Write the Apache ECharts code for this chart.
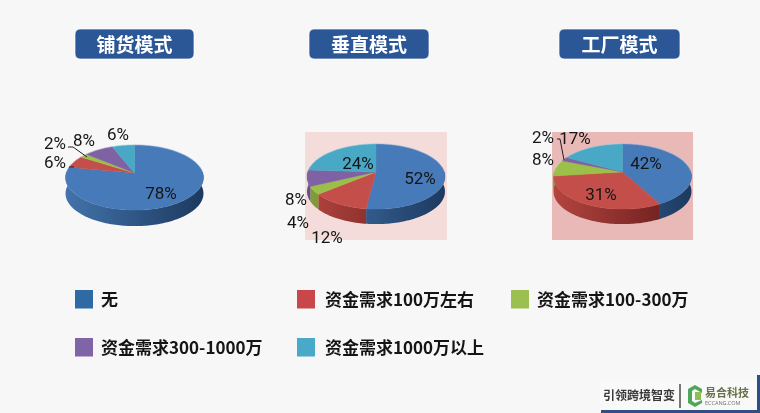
<!DOCTYPE html>
<html><head><meta charset="utf-8">
<style>html,body{margin:0;padding:0;background:#f7f7f8}#c{width:760px;height:413px}</style>
<script src="https://cdn.jsdelivr.net/npm/echarts@6/dist/echarts.min.js"></script>
</head><body><div id="c"></div>
<script>
// ---- data ----
const categories = ['无','资金需求100万左右','资金需求100-300万','资金需求300-1000万','资金需求1000万以上'];
const modelNames = ['铺货模式','垂直模式','工厂模式'];
const puhuoValues = [78,6,2,8,6];
const chuizhiValues = [52,12,4,8,24];
const gongchangValues = [42,31,8,2,17];
const footerSlogan = '引领跨境智变';
const footerBrand = '易合科技';
const footerDomain = 'ECCANG.COM';

// ---- styling / layout ----
const FONT_CJK = '"Noto Sans CJK SC"';
const topColors = ['#477ab8','#c44f4a','#9cbf4a','#7f62a3','#48a8c6'];
const legendColors = ['#2f6aa5','#c9474a','#9bc04f','#8064a8','#48a9c8'];
const wallStops = [['#4373aa','#1c3a60'],['#b3443f','#621a19'],['#7f9e38','#5c7528'],['#64508a','#443560'],['#3588a4','#205a70']];
const K = 0.138, SY = 32, SX = 68.3; // perspective of the tilted disc
const pies = [
  {values:puhuoValues, ax:134.5, ay:173, d:16, titleX:75, titleW:119,
   labels:[[161,195],[55,164],[55,145],[84,142],[118,136]],
   leaders:[[[68,147],[73,147],[87,157]],[[69,167],[74,167]]]},
  {values:chuizhiValues, ax:376, ay:172, d:15, titleX:309, titleW:120,
   labels:[[420,180],[327,239],[298,224],[296,201],[358,165]],leaders:[],
   bg:{x:305,y:132,w:142,h:108,c:'#f3dcd9'}},
  {values:gongchangValues, ax:622.5, ay:172, d:15, titleX:559, titleW:121,
   labels:[[646,165],[601,196],[543,161],[543,139],[575,140]],
   leaders:[[[557,139],[560,139],[564,160]]],
   bg:{x:552,y:132,w:141,h:108,c:'#e8b9b6'}}
];
const legendPos = [[75,290,26],[297,290,28],[511,290,26],[75,338,26],[297,338,28]];

function pt(p,deg,dy){
  const a=deg*Math.PI/180,u=Math.sin(a),v=-Math.cos(a),w=1-K*v;
  return [p.ax+SX*u/w,p.ay+SY*v/w+(dy||0)];
}

function makeSeries(p){
  const total=p.values.reduce((a,b)=>a+b,0);
  const starts=[];let acc=0;p.values.forEach(v=>{starts.push(acc);acc+=v;});
  return {
    type:'custom',coordinateSystem:'none',silent:true,animation:false,z:3,
    data:p.values.map((v,i)=>({name:categories[i],value:[v,i]})),
    renderItem:function(params,api){
      const v=api.value(0),i=api.value(1);
      const a0=starts[i]/total*360,a1=(starts[i]+v)/total*360;
      const children=[];
      const w0=Math.max(a0,80),w1=Math.min(a1,280);
      if(w1>w0){
        const up=[],down=[];
        for(let a=w0;a<w1;a+=1.5){up.push(pt(p,a));down.unshift(pt(p,a,p.d));}
        up.push(pt(p,w1));down.unshift(pt(p,w1,p.d));
        children.push({type:'polygon',z2:1,shape:{points:up.concat(down)},
          style:{stroke:null,fill:new echarts.graphic.LinearGradient(p.ax-SX,0,p.ax+SX,0,
            [{offset:0,color:wallStops[i][0]},{offset:1,color:wallStops[i][1]}],true)}});
      }
      const pts=[[p.ax,p.ay]],rimA=[],rimB=[];
      for(let a=a0;a<a1;a+=1.5){
        pts.push(pt(p,a));
        if(a<90)rimA.push(pt(p,a));
        if(a>270)rimB.push(pt(p,a));
      }
      pts.push(pt(p,a1));
      children.push({type:'polygon',z2:2,shape:{points:pts},style:{fill:topColors[i],stroke:topColors[i],lineWidth:.4}});
      [rimA,rimB].forEach(r=>{
        if(r.length>1)children.push({type:'polyline',z2:3,shape:{points:r},style:{fill:null,stroke:'rgba(255,255,255,.35)',lineWidth:.8}});
      });
      return {type:'group',children};
    }
  };
}

const graphic=[];
pies.forEach(p=>{if(p.bg)graphic.push({type:'rect',z:0,silent:true,shape:{x:p.bg.x,y:p.bg.y,width:p.bg.w,height:p.bg.h},style:{fill:p.bg.c}});});
pies.forEach((p,i)=>{
  graphic.push({type:'rect',z:5,shape:{x:p.titleX,y:29,width:p.titleW,height:30,r:5},
    style:{fill:'#2b5797',stroke:'rgba(255,255,255,.7)',lineWidth:1}});
  graphic.push({type:'text',z:6,style:{text:modelNames[i],x:p.titleX+p.titleW/2,y:44.5,align:'center',verticalAlign:'middle',
    font:'bold 19px '+FONT_CJK,fill:'#ffffff'}});
});
pies.forEach(p=>{
  p.leaders.forEach(l=>graphic.push({type:'polyline',z:9,shape:{points:l},style:{stroke:'#222',lineWidth:1,fill:null}}));
  p.values.forEach((v,i)=>graphic.push({type:'text',z:10,style:{text:v+'%',x:p.labels[i][0],y:p.labels[i][1],align:'center',verticalAlign:'middle',
    font:'17px Roboto',fill:'#151515'}}));
});
categories.forEach((c,i)=>{
  const [x,y,off]=legendPos[i];
  graphic.push({type:'rect',z:5,shape:{x:x,y:y,width:18,height:18.5},style:{fill:legendColors[i]}});
  graphic.push({type:'text',z:5,style:{text:c,x:x+off,y:y+10,verticalAlign:'middle',font:'bold 17px '+FONT_CJK,fill:'#151515'}});
});
graphic.push({type:'rect',z:1,shape:{x:600,y:381,width:157,height:29},style:{fill:'#f9f9f9'}});
graphic.push({type:'rect',z:2,shape:{x:601,y:410,width:159,height:3},style:{fill:'#2d4f86'}});
graphic.push({type:'rect',z:2,shape:{x:757,y:375,width:3,height:38},style:{fill:'#2d4f86'}});
graphic.push({type:'text',z:5,style:{text:footerSlogan,x:603,y:395,verticalAlign:'middle',font:'bold 12px '+FONT_CJK,fill:'#3a3a3a'}});
graphic.push({type:'rect',z:5,shape:{x:679,y:384,width:2,height:24},style:{fill:'#777'}});
graphic.push({type:'polygon',z:5,shape:{points:[[688,389],[695,385],[702,389],[702,393],[695,389],[692,391],[692,401],[695,403],[702,400],[702,403],[695,407],[688,403]]},style:{fill:'#4fa85a'}});
graphic.push({type:'rect',z:5,shape:{x:695,y:392,width:6,height:8},style:{fill:'#8cc152'}});
graphic.push({type:'text',z:5,style:{text:footerBrand,x:705,y:393,verticalAlign:'middle',font:'bold 11px '+FONT_CJK,fill:'#66734a'}});
graphic.push({type:'text',z:5,style:{text:footerDomain,x:705,y:403,verticalAlign:'middle',font:'5.5px "Noto Sans"',fill:'#777'}});

const chart=echarts.init(document.getElementById('c'),null,{renderer:'canvas'});
chart.setOption({backgroundColor:'#f7f7f8',animation:false,series:pies.map(makeSeries),graphic:{elements:graphic}});
</script></body></html>
